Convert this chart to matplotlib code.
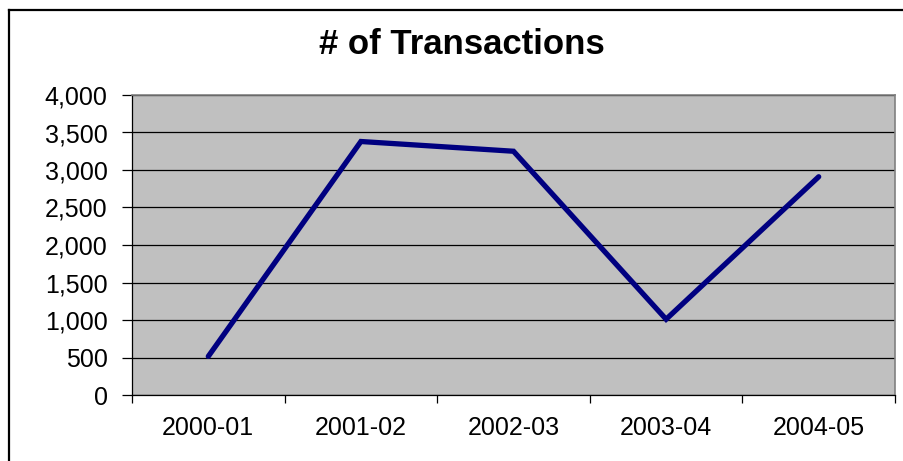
import numpy as np
import matplotlib
matplotlib.use('Agg')
import matplotlib.pyplot as plt
from matplotlib.lines import Line2D
from matplotlib.ticker import FuncFormatter

plt.rcParams['font.family'] = ['Liberation Sans', 'DejaVu Sans']

# data
periods = ['2000-01', '2001-02', '2002-03', '2003-04', '2004-05']
transactions = [515, 3380, 3250, 1010, 2910]
y_ticks = [0, 500, 1000, 1500, 2000, 2500, 3000, 3500, 4000]
title = '# of Transactions'

W, H = 904, 461
fig = plt.figure(figsize=(W / 100, H / 100), dpi=100)
fig.patch.set_facecolor('white')

# chart area border (runs off the right and bottom edges)
fig.add_artist(Line2D([9 / W, 9 / W], [0, 1 - 10 / H], color='black', lw=1.6,
                      transform=fig.transFigure, solid_capstyle='projecting'))
fig.add_artist(Line2D([9 / W, 1], [1 - 10 / H, 1 - 10 / H], color='black', lw=1.6,
                      transform=fig.transFigure, solid_capstyle='projecting'))

ax = fig.add_axes([132 / W, (H - 395) / H, (895 - 132) / W, (395 - 95) / H])
ax.set_facecolor('#C0C0C0')

x = np.arange(len(periods))
ax.plot(x, transactions, color='#000080', lw=3.8, solid_capstyle='round',
        solid_joinstyle='miter', zorder=3)

ax.set_xlim(-0.5, len(periods) - 0.5)
ax.set_ylim(y_ticks[0], y_ticks[-1])

ax.set_yticks(y_ticks)
ax.yaxis.set_major_formatter(FuncFormatter(lambda v, p: '{:,.0f}'.format(v)))
ax.yaxis.grid(True, color='black', lw=0.9)
ax.set_axisbelow(True)

ax.set_xticks(np.arange(len(periods) + 1) - 0.5)
ax.set_xticklabels([])
ax.set_xticks(x, minor=True)
ax.set_xticklabels(periods, minor=True)

ax.tick_params(axis='y', length=7.5, width=0.9, pad=10, labelsize=18, colors='black')
ax.tick_params(axis='x', which='major', length=5.5, width=0.9)
ax.tick_params(axis='x', which='minor', length=0, pad=15, labelsize=18)

for side in ['left', 'bottom']:
    ax.spines[side].set_color('black')
    ax.spines[side].set_linewidth(0.9)
for side in ['top', 'right']:
    ax.spines[side].set_color('#808080')
    ax.spines[side].set_linewidth(1.2)

fig.text(462 / W, 1 - 45 / H, title, ha='center', va='center',
         fontsize=25, fontweight='bold')

fig.savefig('out.png', dpi=100)
